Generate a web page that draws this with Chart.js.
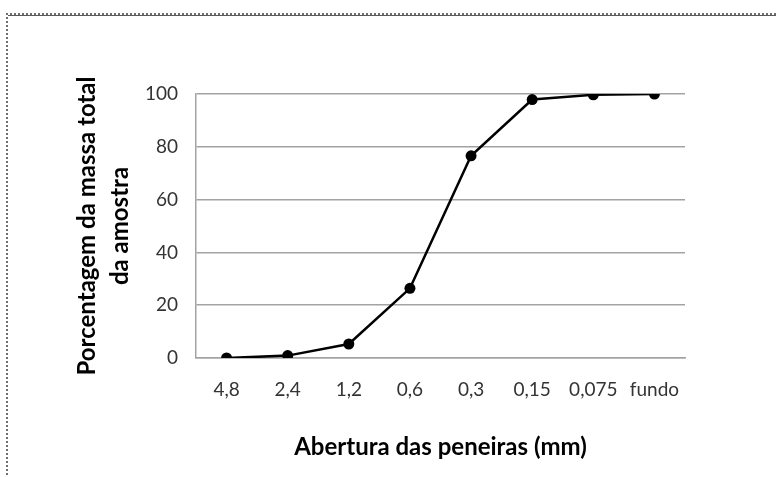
<!DOCTYPE html>
<html>
<head>
<meta charset="utf-8">
<script src="https://cdn.jsdelivr.net/npm/chart.js@4/dist/chart.umd.min.js"></script>
<style>
    html, body { margin: 0; padding: 0; background: #fff; }
    #wrap { position: relative; width: 776px; height: 477px; overflow: hidden; }
    /* dotted frame of the pasted picture, only top and left edges are visible */
    #frame { position: absolute; left: 6px; top: 13px; width: 900px; height: 600px;
             border-top: 2px dotted #6e6e6e; border-left: 2px dotted #6e6e6e; }
    #frameLine { position: absolute; left: 8px; top: 15px; width: 900px; height: 1px; background: #5a5a5a; }
    canvas { position: absolute; left: 0; top: 0; }
</style>
</head>
<body>
<div id="wrap">
    <div id="frame"></div>
    <div id="frameLine"></div>
    <canvas id="curve" width="776" height="477"></canvas>
</div>
<script>
// --- DATA ---
const sieveLabels = ['4,8', '2,4', '1,2', '0,6', '0,3', '0,15', '0,075', 'fundo'];
const passingPercent = [0, 0.9, 5.3, 26.4, 76.6, 97.9, 99.7, 100];
const yTickValues = [0, 20, 40, 60, 80, 100];

const yTitle = ['Porcentagem da massa total', 'da amostra'];
const xTitle = 'Abertura das peneiras (mm)';

const gridGray = '#a3a3a3';
const tickColor = '#333333';

const ctx = document.getElementById('curve').getContext('2d');

new Chart(ctx, {
    type: 'line',
    data: {
        labels: sieveLabels,
        datasets: [{
            data: passingPercent,
            borderColor: '#000',
            backgroundColor: '#000',
            borderWidth: 2.5,
            pointRadius: 5.5,
            pointBorderWidth: 0,
            pointBackgroundColor: '#000',
            tension: 0,
            fill: false
        }]
    },
    options: {
        responsive: false,
        animation: false,
        layout: { padding: { left: 0, right: 91, top: 94, bottom: 0 } },
        plugins: { legend: { display: false }, tooltip: { enabled: false } },
        scales: {
            x: {
                offset: true,
                grid: { display: false, drawTicks: false },
                border: { display: true, color: gridGray, width: 1.5 },
                ticks: {
                    color: tickColor,
                    padding: 20,
                    maxRotation: 0,
                    autoSkip: false,
                    font: { family: 'Lato', size: 19 }
                },
                title: {
                    display: true,
                    text: xTitle,
                    color: '#000',
                    font: { family: 'Lato', size: 24, weight: 'bold' },
                    padding: { top: 0, bottom: 15 }
                },
                afterFit: scale => { scale.height = 119; }
            },
            y: {
                min: 0,
                max: 100,
                afterBuildTicks: scale => { scale.ticks = yTickValues.map(v => ({ value: v })); },
                grid: { color: gridGray, lineWidth: 1.5, drawTicks: false },
                border: { display: true, color: gridGray, width: 1.5 },
                ticks: {
                    color: tickColor,
                    padding: 18,
                    font: { family: 'Lato', size: 19 }
                },
                title: {
                    display: true,
                    text: yTitle,
                    color: '#000',
                    font: { family: 'Lato', size: 24, weight: 'bold', lineHeight: 1.375 },
                    padding: { top: 71, bottom: 0 }
                },
                afterFit: scale => { scale.width = 196; }
            }
        }
    }
});
</script>
</body>
</html>
